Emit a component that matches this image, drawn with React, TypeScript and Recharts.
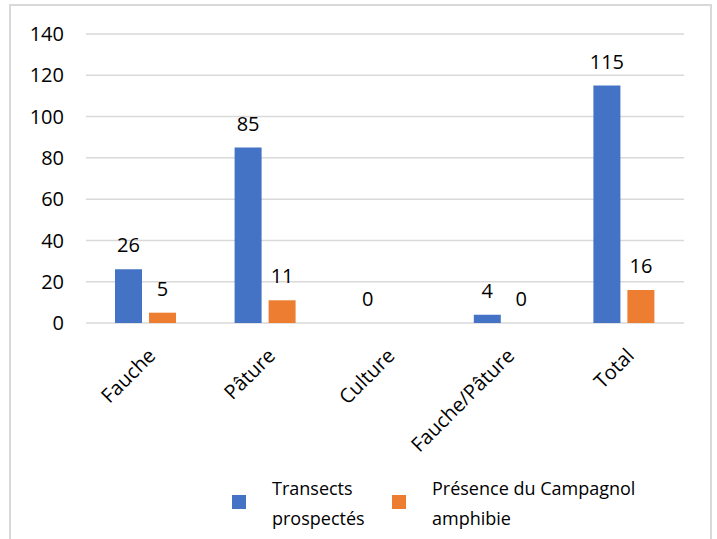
import React from 'react';
import { BarChart, Bar, XAxis, YAxis, CartesianGrid, LabelList } from 'recharts';

const categories = ['Fauche', 'Pâture', 'Culture', 'Fauche/Pâture', 'Total'];
const transects = [26, 85, 0, 4, 115];
const presence: (number | null)[] = [5, 11, null, 0, 16];
const yTicks = [0, 20, 40, 60, 80, 100, 120, 140];

const data = categories.map((name, i) => ({
  name,
  transects: transects[i],
  presence: presence[i],
}));

const FONT = '"Open Sans", sans-serif';
const BLUE = '#4472C4';
const ORANGE = '#ED7D31';

// zero values still get a (hair-thin) rectangle so their label is drawn
const zeroSize = (value: any) => (value === 0 ? 0.01 : 0);

const SlantedTick = (props: any) => {
  const { x, y, payload } = props;
  return (
    <g transform={`translate(${x + 11},${y + 34})`}>
      <text
        textAnchor="end"
        transform="rotate(-45)"
        fontSize={20}
        fontFamily={FONT}
        fill="#000"
      >
        {payload.value}
      </text>
    </g>
  );
};

// value above each bar, zeros included, empty cells skipped
const ValueLabel = (props: any) => {
  const { x, y, width, height, value } = props;
  if (value === null || value === undefined) return null;
  const top = Math.min(y, y + height);
  return (
    <text
      x={x + width / 2}
      y={top - 17}
      textAnchor="middle"
      fontSize={20}
      fontFamily={FONT}
      fill="#000"
    >
      {value}
    </text>
  );
};

const LegendItem = ({ color, lines, left, textLeft }: { color: string; lines: string[]; left: number; textLeft: number }) => (
  <>
    <div style={{ position: 'absolute', left, top: 495, width: 14, height: 14, background: color }} />
    <div style={{ position: 'absolute', left: textLeft, top: 473, fontSize: 18, lineHeight: '30px', color: '#000' }}>
      {lines.map((l) => (
        <div key={l}>{l}</div>
      ))}
    </div>
  </>
);

export default function App() {
  return (
    <div
      style={{
        position: 'absolute',
        left: 0,
        top: 0,
        width: 717,
        height: 539,
        overflow: 'hidden',
        background: '#fff',
        fontFamily: FONT,
      }}
    >
      <div
        style={{
          position: 'absolute',
          left: 9,
          top: 4,
          width: 699,
          height: 600,
          border: '2px solid #d9d9d9',
        }}
      />
      <div style={{ position: 'absolute', left: 0, top: 0 }}>
        <BarChart
          width={717}
          height={539}
          data={data}
          margin={{ top: 34, right: 33, left: 0, bottom: 86 }}
          barGap={7}
          barSize={27}
        >
          <CartesianGrid vertical={false} stroke="#d9d9d9" strokeWidth={1.5} />
          <XAxis
            dataKey="name"
            interval={0}
            axisLine={false}
            tickLine={false}
            tickSize={0}
            tickMargin={0}
            height={130}
            tick={<SlantedTick />}
          />
          <YAxis
            domain={[0, 140]}
            ticks={yTicks}
            width={86}
            axisLine={false}
            tickLine={false}
            tickSize={0}
            tickMargin={22}
            tick={{ fontSize: 20, fontFamily: FONT, fill: '#000' }}
          />
          <Bar dataKey="transects" fill={BLUE} minPointSize={zeroSize} isAnimationActive={false}>
            <LabelList dataKey="transects" content={<ValueLabel />} />
          </Bar>
          <Bar dataKey="presence" fill={ORANGE} minPointSize={zeroSize} isAnimationActive={false}>
            <LabelList dataKey="presence" content={<ValueLabel />} />
          </Bar>
        </BarChart>
      </div>
      <LegendItem color={BLUE} lines={['Transects', 'prospectés']} left={232} textLeft={272} />
      <LegendItem color={ORANGE} lines={['Présence du Campagnol', 'amphibie']} left={392} textLeft={432} />
    </div>
  );
}
